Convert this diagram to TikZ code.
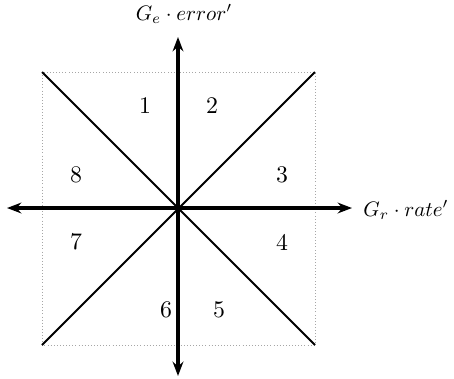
\documentclass[tikz,border=0pt]{standalone}
\usetikzlibrary{arrows.meta}
\begin{document}
\begin{tikzpicture}[x=0.42pt,y=-0.42pt,
  axis/.style={line width=1.3pt,-{Stealth[length=6pt,width=4.5pt]}},
  diag/.style={line width=0.8pt},
  frame/.style={densely dotted,gray!70,line width=0.3pt},
  lab/.style={inner sep=0pt,scale=0.88},
  num/.style={font=\normalsize}]
\useasboundingbox (0,0) rectangle (454,378);
\coordinate (O) at (178,208);
\coordinate (tl) at (42,72);
\coordinate (tr) at (315,72);
\coordinate (br) at (315,345);
\coordinate (bl) at (42,345);
\draw[frame] (tl) rectangle (br);
\draw[diag] (tl) -- (br);
\draw[diag] (tr) -- (bl);
\coordinate (xl) at (7,208);
\coordinate (xr) at (352,208);
\coordinate (yt) at (178,37);
\coordinate (yb) at (178,376);
\draw[axis] (O) -- (xr);
\draw[axis] (O) -- (xl);
\draw[axis] (O) -- (yt);
\draw[axis] (O) -- (yb);
\node[lab] (ylab) at (184,14) {$G_e\cdot error'$};
\node[lab,anchor=west] (xlab) at (363,210) {$G_r\cdot rate'$};
\node[num] (n1) at (145,106) {1};
\node[num] (n2) at (212,106) {2};
\node[num] (n3) at (282,175) {3};
\node[num] (n4) at (282,242) {4};
\node[num] (n5) at (219,310) {5};
\node[num] (n6) at (166,310) {6};
\node[num] (n7) at (76,242) {7};
\node[num] (n8) at (76,175) {8};
\end{tikzpicture}
\end{document}
